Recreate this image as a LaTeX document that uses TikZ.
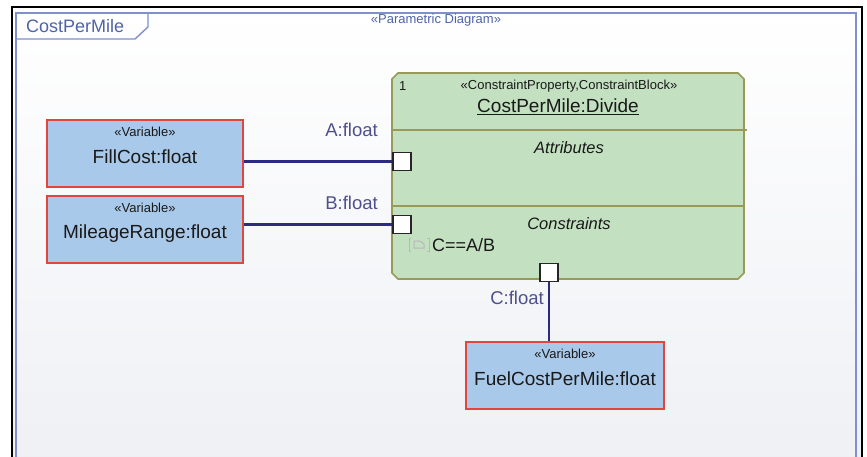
\documentclass[tikz,border=0pt]{standalone}
\usepackage{fontspec}
\setmainfont{Liberation Sans}
\usetikzlibrary{calc}
\definecolor{varfill}{HTML}{A9C9EA}
\definecolor{varline}{HTML}{E2453C}
\definecolor{blkfill}{HTML}{C3E0C1}
\definecolor{blkline}{HTML}{999A58}
\definecolor{conncol}{HTML}{2B2B82}
\definecolor{labcol}{HTML}{4F4F90}
\definecolor{framecol}{HTML}{7F8FCF}
\definecolor{tabtext}{HTML}{4F63A8}
\definecolor{bgbot}{HTML}{EEF0F4}
\tikzset{
  varbox/.style={draw=varline, line width=1.6pt, fill=varfill, minimum width=196pt, minimum height=67pt, inner sep=0pt},
  stereo/.style={font=\fontsize{13}{15}\selectfont, text=black!90, inner sep=0pt},
  vname/.style={font=\fontsize{19}{22}\selectfont, text=black!90, inner sep=0pt},
  portbox/.style={draw=black!85, line width=1.4pt, fill=white, minimum size=18pt, inner sep=0pt},
  conn/.style={draw=conncol, line width=2.4pt},
  plabel/.style={font=\fontsize{18.5}{22}\selectfont, text=labcol, inner sep=0pt},
}
\begin{document}
\begin{tikzpicture}[x=1pt,y=-1pt]
\useasboundingbox (0,0) rectangle (867,457);
\begin{scope}
\clip (0,0) rectangle (867,457);
% background frame
\fill[white] (0,0) rectangle (867,457);
\shade[top color=white, bottom color=bgbot] (12,7) rectangle (862,470);
\draw[black, line width=1.4pt] (12,470) -- (12,7) -- (862,7) -- (862,470);
\draw[framecol, line width=1.4pt] (16,470) -- (16,13) -- (856,13) -- (856,470);
\end{scope}
% name tab
\draw[framecol, line width=1.4pt] (16,39) -- (135,39) -- (148,27) -- (148,13);
\node[anchor=west, font=\fontsize{18}{21}\selectfont, text=tabtext, inner sep=0pt] (tabname) at (26,26) {CostPerMile};
\node[font=\fontsize{13}{15}\selectfont, text=tabtext, inner sep=0pt] (diagkind) at (436,20) {«Parametric Diagram»};

% constraint block
\filldraw[fill=blkfill, draw=blkline, line width=1.6pt]
  (398,73) -- (738,73) -- (744,79) -- (744,273) -- (738,279) -- (398,279) -- (392,273) -- (392,79) -- cycle;
\draw[blkline, line width=1.6pt] (392,130) -- (747,130);
\draw[blkline, line width=1.6pt] (392,206) -- (744,206);
\node[anchor=west, font=\fontsize{13}{15}\selectfont, text=black!90, inner sep=0pt] (mult) at (399,86) {1};
\node[stereo] (blkster) at (569,86) {«ConstraintProperty,ConstraintBlock»};
\node[vname] (blkname) at (558,107) {\underline{CostPerMile:Divide}};
\node[font=\fontsize{16.5}{19}\itshape\selectfont, text=black!90, inner sep=0pt] (attr) at (569,148) {Attributes};
\node[font=\fontsize{16.5}{19}\itshape\selectfont, text=black!90, inner sep=0pt] (cons) at (569,224) {Constraints};
% small constraint icon
\begin{scope}[draw=black!28, line width=1pt]
\draw (411,238) -- (409,238) -- (409,251) -- (411,251);
\draw (427,238) -- (429,238) -- (429,251) -- (427,251);
\draw (414,241) -- (414,248) -- (424,248) -- (424,244) -- (420,241) -- cycle;
\end{scope}
\node[anchor=west, font=\fontsize{18}{21}\selectfont, text=black!90, inner sep=0pt] (expr) at (432,245) {C==A/B};

% ports
\node[portbox] (pA) at (402,161.5) {};
\node[portbox] (pB) at (402,224.5) {};
\node[portbox] (pC) at (549,272.5) {};

% variables
\node[varbox] (fill) at (145,153.5) {};
\node[stereo] at ($(fill.north)+(0,13)$) {«Variable»};
\node[vname] at ($(fill.north)+(0,38)$) {FillCost:float};
\node[varbox] (mile) at (145,229.5) {};
\node[stereo] at ($(mile.north)+(0,13)$) {«Variable»};
\node[vname] at ($(mile.north)+(0,38)$) {MileageRange:float};
\node[varbox, minimum width=198pt] (fuel) at (565,375.5) {};
\node[stereo] at ($(fuel.north)+(0,13)$) {«Variable»};
\node[vname] at ($(fuel.north)+(0,38)$) {FuelCostPerMile:float};

% connectors
\draw[conn] (fill.east |- pA) -- (pA.west);
\draw[conn] (mile.east |- pB) -- (pB.west);
\draw[conn] (pC.south) -- (pC.south |- fuel.north);

% labels
\node[plabel, anchor=east] (la) at (378,130) {A:float};
\node[plabel, anchor=east] (lb) at (378,203) {B:float};
\node[plabel, anchor=east] (lc) at (544,298) {C:float};
\end{tikzpicture}
\end{document}
